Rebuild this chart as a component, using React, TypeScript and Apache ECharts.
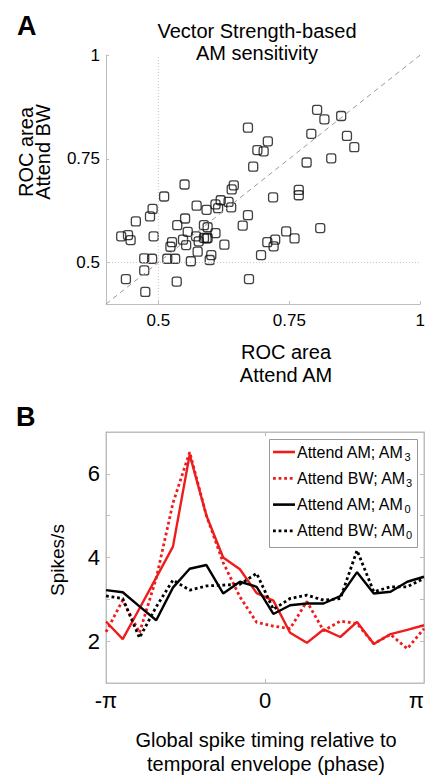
import React, { useEffect, useRef } from "react";
import * as echarts from "echarts";

// ---------- Panel A: ROC areas (Vector Strength-based AM sensitivity) ----------
const rocAttendAM = [
  0.803, 0.817, 0.849, 0.671, 0.792, 0.709, 0.86, 0.689, 0.701, 0.874, 0.83, 0.783,
  0.681, 0.55, 0.644, 0.64, 0.511, 0.768, 0.768, 0.719, 0.619, 0.634, 0.609, 0.573,
  0.614, 0.639, 0.592, 0.489, 0.484, 0.671, 0.457, 0.551, 0.536, 0.587, 0.661, 0.594,
  0.809, 0.744, 0.556, 0.609, 0.429, 0.442, 0.447, 0.491, 0.572, 0.587, 0.592, 0.594,
  0.547, 0.577, 0.76, 0.723, 0.708, 0.72, 0.526, 0.523, 0.553, 0.626, 0.575, 0.601,
  0.696, 0.473, 0.488, 0.517, 0.532, 0.562, 0.598, 0.473, 0.438, 0.535, 0.673, 0.475,
];
const rocAttendBW = [
  0.868, 0.845, 0.853, 0.825, 0.81, 0.792, 0.805, 0.771, 0.768, 0.778, 0.751, 0.741,
  0.731, 0.688, 0.686, 0.676, 0.659, 0.675, 0.662, 0.657, 0.65, 0.646, 0.64, 0.637,
  0.631, 0.633, 0.627, 0.629, 0.611, 0.614, 0.599, 0.606, 0.59, 0.59, 0.589, 0.585,
  0.583, 0.575, 0.574, 0.571, 0.563, 0.566, 0.554, 0.563, 0.563, 0.559, 0.558, 0.559,
  0.555, 0.551, 0.558, 0.555, 0.549, 0.539, 0.549, 0.538, 0.542, 0.543, 0.526, 0.518,
  0.518, 0.51, 0.509, 0.509, 0.509, 0.503, 0.506, 0.481, 0.46, 0.454, 0.46, 0.429,
];
const rocTicks = [0.5, 0.75, 1];

// ---------- Panel B: spike rate vs phase (20 bins from -π to π) ----------
const phaseTickLabels = ["-π", "0", "π"];
const spikeTickLabels = [2, 4, 6];
const seriesNames = ["Attend AM; AM3", "Attend BW; AM3", "Attend AM; AM0", "Attend BW; AM0"];
const attendAM_AM3 = [2.47, 2.05, 2.78, 3.52, 4.26, 6.46, 5.0, 4.0, 3.72, 3.15, 2.97, 2.2, 1.96, 2.28, 2.1, 2.46, 1.93, 2.17, 2.27, 2.38];
const attendBW_AM3 = [2.22, 2.98, 2.2, 3.5, 5.3, 6.52, 5.0, 3.88, 3.06, 2.45, 2.36, 2.3, 2.95, 2.25, 2.48, 2.42, 1.94, 2.16, 1.82, 2.3];
const attendAM_AM0 = [3.22, 3.17, 2.83, 2.5, 3.28, 3.73, 3.82, 3.14, 3.42, 3.3, 2.65, 2.86, 2.9, 2.9, 3.08, 3.65, 3.14, 3.18, 3.42, 3.54];
const attendBW_AM0 = [3.08, 3.02, 2.08, 2.82, 3.46, 3.22, 3.32, 3.34, 3.36, 3.62, 2.76, 3.02, 3.1, 2.98, 3.02, 4.17, 3.18, 3.3, 3.3, 3.5];

const FONT = "'Liberation Sans', Arial, Helvetica, sans-serif";
const RED = "#ee1c1c";
const BOX = "#bdbdbd";

export default function App() {
  const ref = useRef<HTMLDivElement>(null);

  useEffect(() => {
    if (!ref.current) return;
    const chart = echarts.init(ref.current, undefined, { renderer: "svg" });
    const nBins = attendAM_AM3.length;
    const lastIdx = nBins - 1;
    const phaseTickPos = [0, lastIdx / 2, lastIdx];
    const toPairs = (arr: number[]) => arr.map((v, i) => [i, v]);

    const styles = [
      { color: RED, dotted: false },
      { color: RED, dotted: true },
      { color: "#000", dotted: false },
      { color: "#000", dotted: true },
    ];

    const lineSeries = (name: string, data: number[], color: string, dotted: boolean) => ({
      type: "line",
      name,
      xAxisIndex: 1,
      yAxisIndex: 1,
      data: toPairs(data),
      symbol: "none",
      silent: true,
      lineStyle: { color, width: dotted ? 2.8 : 2.4, type: dotted ? "dotted" : "solid" },
      itemStyle: { color },
    });

    const rich = {
      n: { fontSize: 16, fontFamily: FONT, fill: "#000", color: "#000", lineHeight: 20, verticalAlign: "middle" },
      s: { fontSize: 11, fontFamily: FONT, fill: "#000", color: "#000", lineHeight: 11, verticalAlign: "bottom", padding: [4, 0, 0, 0] },
    };

    const legendTop = 452;
    const legendStep = 26.3;
    const legendGraphics: any[] = [
      {
        type: "rect",
        z: 100,
        shape: { x: 269.5, y: 439.5, width: 148, height: 108 },
        style: { fill: "#fff", stroke: "#9a9a9a", lineWidth: 1 },
      },
    ];
    seriesNames.forEach((name, i) => {
      const y = legendTop + i * legendStep;
      const st = styles[i];
      legendGraphics.push({
        type: "line",
        z: 101,
        shape: { x1: 273, y1: y, x2: 295, y2: y },
        style: { stroke: st.color, lineWidth: st.dotted ? 2.8 : 2.6, lineDash: st.dotted ? [2.8, 2.8] : null },
      });
      legendGraphics.push({
        type: "text",
        z: 101,
        x: 297,
        y,
        style: {
          text: `{n|${name.slice(0, -1)}}{s|${name.slice(-1)}}`,
          rich,
          fontFamily: FONT,
          fontSize: 16,
          fill: "#000",
          align: "left",
          verticalAlign: "middle",
        },
      });
    });

    const option: any = {
      animation: false,
      textStyle: { fontFamily: FONT },
      grid: [
        { left: 106, top: 55, width: 317, height: 249 },
        { left: 106, top: 432, width: 318, height: 251, show: true, borderColor: BOX, borderWidth: 1 },
      ],
      xAxis: [
        {
          type: "value",
          gridIndex: 0,
          min: 0.4,
          max: 1,
          axisLine: { show: true, lineStyle: { color: BOX, width: 1 } },
          axisTick: { show: true, inside: true, length: 3, customValues: rocTicks, lineStyle: { color: BOX } },
          axisLabel: { customValues: rocTicks, fontSize: 17, color: "#000", margin: 8, fontFamily: FONT },
          splitLine: { show: false },
        },
        {
          type: "value",
          gridIndex: 1,
          min: 0,
          max: lastIdx,
          axisLine: { show: true, onZero: false, lineStyle: { color: BOX, width: 1 } },
          axisTick: { show: true, inside: true, length: 4, customValues: phaseTickPos, lineStyle: { color: BOX } },
          axisLabel: {
            customValues: phaseTickPos,
            fontSize: 22,
            color: "#000",
            margin: 6,
            fontFamily: FONT,
            alignMaxLabel: "right",
            formatter: (v: number) => phaseTickLabels[phaseTickPos.indexOf(v)] ?? "",
          },
          splitLine: { show: false },
        },
        {
          type: "value",
          gridIndex: 1,
          position: "top",
          min: 0,
          max: lastIdx,
          axisLine: { show: true, onZero: false, lineStyle: { color: BOX, width: 1 } },
          axisTick: { show: true, inside: true, length: 4, customValues: phaseTickPos, lineStyle: { color: BOX } },
          axisLabel: { show: false },
          splitLine: { show: false },
        },
      ],
      yAxis: [
        {
          type: "value",
          gridIndex: 0,
          min: 0.4,
          max: 1,
          axisLine: { show: true, lineStyle: { color: BOX, width: 1 } },
          axisTick: { show: true, inside: true, length: 3, customValues: rocTicks, lineStyle: { color: BOX } },
          axisLabel: { customValues: rocTicks, fontSize: 17, color: "#000", margin: 6, fontFamily: FONT },
          splitLine: { show: false },
        },
        {
          type: "value",
          gridIndex: 1,
          min: 1,
          max: 7,
          interval: 1,
          axisLine: { show: true, onZero: false, lineStyle: { color: BOX, width: 1 } },
          axisTick: { show: true, inside: true, length: 4, lineStyle: { color: BOX } },
          axisLabel: {
            fontSize: 22,
            color: "#000",
            margin: 6,
            fontFamily: FONT,
            formatter: (v: number) => (spikeTickLabels.includes(v) ? String(v) : ""),
          },
          splitLine: { show: false },
        },
        {
          type: "value",
          gridIndex: 1,
          position: "right",
          min: 1,
          max: 7,
          interval: 1,
          axisLine: { show: true, onZero: false, lineStyle: { color: BOX, width: 1 } },
          axisTick: { show: true, inside: true, length: 4, lineStyle: { color: BOX } },
          axisLabel: { show: false },
          splitLine: { show: false },
        },
      ],
      series: [
        {
          type: "line",
          xAxisIndex: 0,
          yAxisIndex: 0,
          data: [
            [0.4, 0.4],
            [1, 1],
          ],
          symbol: "none",
          silent: true,
          lineStyle: { color: "#9a9a9a", width: 1, type: [5, 4] },
        },
        {
          type: "line",
          xAxisIndex: 0,
          yAxisIndex: 0,
          data: [
            [0.5, 0.4],
            [0.5, 1],
          ],
          symbol: "none",
          silent: true,
          lineStyle: { color: "#e2bcbc", width: 1, type: [1, 2] },
        },
        {
          type: "line",
          xAxisIndex: 0,
          yAxisIndex: 0,
          data: [
            [0.4, 0.5],
            [1, 0.5],
          ],
          symbol: "none",
          silent: true,
          lineStyle: { color: "#e2bcbc", width: 1, type: [1, 2] },
        },
        {
          type: "scatter",
          xAxisIndex: 0,
          yAxisIndex: 0,
          data: rocAttendAM.map((x, i) => [x, rocAttendBW[i]]),
          symbol: "roundRect",
          symbolSize: 9,
          silent: true,
          itemStyle: { color: "rgba(255,255,255,0)", borderColor: "#111", borderWidth: 1.3 },
        },
        lineSeries(seriesNames[0], attendAM_AM3, styles[0].color, styles[0].dotted),
        lineSeries(seriesNames[1], attendBW_AM3, styles[1].color, styles[1].dotted),
        lineSeries(seriesNames[2], attendAM_AM0, styles[2].color, styles[2].dotted),
        lineSeries(seriesNames[3], attendBW_AM0, styles[3].color, styles[3].dotted),
      ],
      graphic: [
        { type: "text", x: 17, y: 26, style: { text: "A", fontSize: 27, fontWeight: "bold", fontFamily: FONT, fill: "#000", align: "left", verticalAlign: "middle" } },
        { type: "text", x: 16, y: 417, style: { text: "B", fontSize: 27, fontWeight: "bold", fontFamily: FONT, fill: "#000", align: "left", verticalAlign: "middle" } },
        { type: "text", x: 257, y: 31, style: { text: "Vector Strength-based", fontSize: 20, fontFamily: FONT, fill: "#000", align: "center", verticalAlign: "middle" } },
        { type: "text", x: 257, y: 53, style: { text: "AM sensitivity", fontSize: 20, fontFamily: FONT, fill: "#000", align: "center", verticalAlign: "middle" } },
        { type: "text", x: 286, y: 352, style: { text: "ROC area", fontSize: 20, fontFamily: FONT, fill: "#000", align: "center", verticalAlign: "middle" } },
        { type: "text", x: 286, y: 375, style: { text: "Attend AM", fontSize: 20, fontFamily: FONT, fill: "#000", align: "center", verticalAlign: "middle" } },
        { type: "text", x: 26, y: 152, rotation: Math.PI / 2, style: { text: "ROC area", fontSize: 20, fontFamily: FONT, fill: "#000", align: "center", verticalAlign: "middle" } },
        { type: "text", x: 43, y: 152, rotation: Math.PI / 2, style: { text: "Attend BW", fontSize: 20, fontFamily: FONT, fill: "#000", align: "center", verticalAlign: "middle" } },
        { type: "text", x: 57, y: 560, rotation: Math.PI / 2, style: { text: "Spikes/s", fontSize: 19, fontFamily: FONT, fill: "#000", align: "center", verticalAlign: "middle" } },
        { type: "text", x: 266, y: 740, style: { text: "Global spike timing relative to", fontSize: 20, fontFamily: FONT, fill: "#000", align: "center", verticalAlign: "middle" } },
        { type: "text", x: 266, y: 764, style: { text: "temporal envelope (phase)", fontSize: 20, fontFamily: FONT, fill: "#000", align: "center", verticalAlign: "middle" } },
        ...legendGraphics,
      ],
    };

    chart.setOption(option);
    return () => chart.dispose();
  }, []);

  return (
    <div
      ref={ref}
      style={{ position: "absolute", left: 0, top: 0, width: 428, height: 775, background: "#fff" }}
    />
  );
}
